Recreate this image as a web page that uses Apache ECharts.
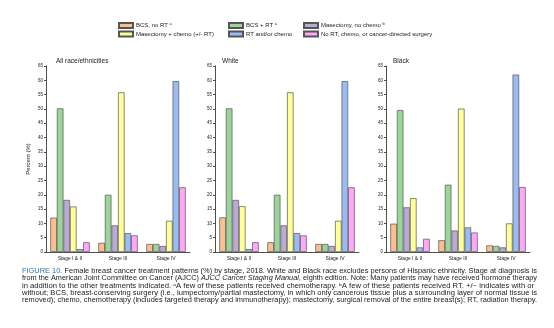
<!DOCTYPE html>
<html lang="en">
<head>
    <meta charset="UTF-8">
    <title>Breast cancer treatment patterns</title>
    <style>
        * { margin: 0; padding: 0; }
        body { background: #fff; }
    </style>
    <script src="https://cdn.jsdelivr.net/npm/echarts@6/dist/echarts.min.js"></script>
</head>
<body>
    <div id="echart" style="width: 554px; height: 328px;"></div>
    <script>
        // data (percent)
        var stages = ['Stage I & II', 'Stage III', 'Stage IV']
        var treatments = ['BCS, no RT', 'BCS + RT', 'Masectomy, no chemo', 'Masectomy + chemo (+/- RT)', 'RT and/or chemo', 'No RT, chemo, or cancer-directed surgery']
        var supers = { 'BCS, no RT': 'a', 'BCS + RT': 'a', 'Masectomy, no chemo': 'b' }
        var colors = ['#fbc08e', '#9bd59a', '#bba9d6', '#ffff99', '#9bbcf2', '#ffa8f8']
        var panels = ['All race/ethnicities', 'White', 'Black']
        var yTicks = [0, 65, 5] // min, max, step

        // one array per treatment, values by stage
        var allRaces = [
            [12, 3.2, 2.8],
            [50.2, 20, 2.8],
            [18.2, 9.3, 2.1],
            [15.9, 55.8, 10.9],
            [1, 6.6, 59.7],
            [3.4, 5.8, 22.6]
        ]
        var white = [
            [12.1, 3.4, 2.8],
            [50.2, 20, 2.8],
            [18.2, 9.3, 2.1],
            [16, 55.8, 10.9],
            [1, 6.6, 59.7],
            [3.4, 5.8, 22.6]
        ]
        var black = [
            [9.9, 4.1, 2.3],
            [49.6, 23.5, 2.1],
            [15.6, 7.5, 1.6],
            [18.8, 50.1, 10],
            [1.6, 8.6, 62],
            [4.6, 6.8, 22.7]
        ]
        var panelData = [allRaces, white, black]

        var caption = [
            [['b', 'FIGURE 10.'], ['n', ' Female breast cancer treatment patterns (%) by stage, 2018. White and Black race excludes persons of Hispanic ethnicity. Stage at diagnosis is']],
            [['n', 'from the American Joint Committee on Cancer (AJCC) '], ['i', 'AJCC Cancer Staging Manual'], ['n', ', eighth edition. Note: Many patients may have received hormone therapy']],
            [['n', 'in addition to the other treatments indicated. '], ['s', 'a'], ['n', 'A few of these patients received chemotherapy. '], ['s', 'b'], ['n', 'A few of these patients received RT. +/\u2212 indicates with or']],
            [['n', 'without; BCS, breast-conserving surgery (i.e., lumpectomy/partial mastectomy, in which only cancerous tissue plus a surrounding layer of normal tissue is']],
            [['n', 'removed); chemo, chemotherapy (includes targeted therapy and immunotherapy); mastectomy, surgical removal of the entire breast(s); RT, radiation therapy.']]
        ]

        var lefts = [46, 215, 386]
        var font = 'Liberation Sans'
        var echart = echarts.init(document.getElementById('echart'))

        var grids = [], xAxes = [], yAxes = [], titles = [], series = []
        panels.forEach((p, k) => {
            grids.push({ left: lefts[k], top: 66, width: 144, height: 186 })
            titles.push({
                text: p, left: lefts[k] + (k == 0 ? 5 : 2), top: 53,
                textStyle: { fontSize: 6.5, fontWeight: 'normal', color: '#222', fontFamily: font }
            })
            xAxes.push({
                type: 'category', gridIndex: k, data: stages,
                axisLine: { lineStyle: { color: '#222', width: 0.8 } },
                axisTick: { length: 2, lineStyle: { color: '#222', width: 0.8 } },
                axisLabel: { fontSize: 5, color: '#222', margin: 4, fontFamily: font }
            })
            yAxes.push({
                type: 'value', gridIndex: k, min: yTicks[0], max: yTicks[1], interval: yTicks[2],
                name: k == 0 ? 'Percent (%)' : '', nameLocation: 'middle', nameGap: 15,
                nameTextStyle: { fontSize: 6, color: '#222', fontFamily: font },
                axisLine: { show: true, lineStyle: { color: '#222', width: 0.8 } },
                axisTick: { show: true, length: 2, lineStyle: { color: '#222', width: 0.8 } },
                splitLine: { show: false },
                axisLabel: { fontSize: 4.5, color: '#222', margin: 3, fontFamily: font }
            })
            treatments.forEach((t, i) => {
                series.push({
                    name: t, type: 'bar', xAxisIndex: k, yAxisIndex: k,
                    data: panelData[k][i],
                    barGap: '0%', barCategoryGap: '18%',
                    itemStyle: { color: colors[i], borderColor: '#555', borderWidth: 0.7 }
                })
            })
        })

        function legendBlock(names, left) {
            return {
                data: names, left: left, top: 22, orient: 'vertical',
                itemWidth: 14, itemHeight: 5, itemGap: 1.5, padding: 0,
                icon: 'rect',
                formatter: n => supers[n] ? n + ' {sup|' + supers[n] + '}' : n,
                textStyle: {
                    fontSize: 6, color: '#222', fontFamily: font, padding: [0, 0, 0, -2],
                    rich: { sup: { fontSize: 4, verticalAlign: 'top', padding: [0, 0, 3, 0] } }
                }
            }
        }

        // caption lines, stretched to the column width
        var ctx = document.createElement('canvas').getContext('2d')
        var capFs = 6.3, capW = 515
        var graphic = caption.map((line, j) => {
            ctx.font = capFs + 'px ' + font
            var plain = line.map(s => s[1]).join('')
            var w = ctx.measureText(plain).width
            return {
                type: 'text', left: 22, top: 268 + j * 7.4,
                scaleX: capW / w, originX: 0,
                style: {
                    text: line.map(s => '{' + s[0] + '|' + s[1].replace(/[{}|]/g, '') + '}').join(''),
                    font: capFs + 'px ' + font, fill: '#222',
                    rich: {
                        n: { fontSize: capFs, fontFamily: font, fill: '#222' },
                        b: { fontSize: capFs, fontFamily: font, fill: '#2a73b8' },
                        i: { fontSize: capFs, fontFamily: font, fill: '#222', fontStyle: 'italic' },
                        s: { fontSize: 4.2, fontFamily: font, fill: '#222', verticalAlign: 'top' }
                    }
                }
            }
        })

        var option = {
            animation: false,
            title: titles,
            legend: [
                legendBlock([treatments[0], treatments[3]], 118),
                legendBlock([treatments[1], treatments[4]], 228),
                legendBlock([treatments[2], treatments[5]], 303)
            ],
            grid: grids,
            xAxis: xAxes,
            yAxis: yAxes,
            series: series,
            graphic: graphic
        }
        echart.setOption(option)
    </script>
</body>
</html>
